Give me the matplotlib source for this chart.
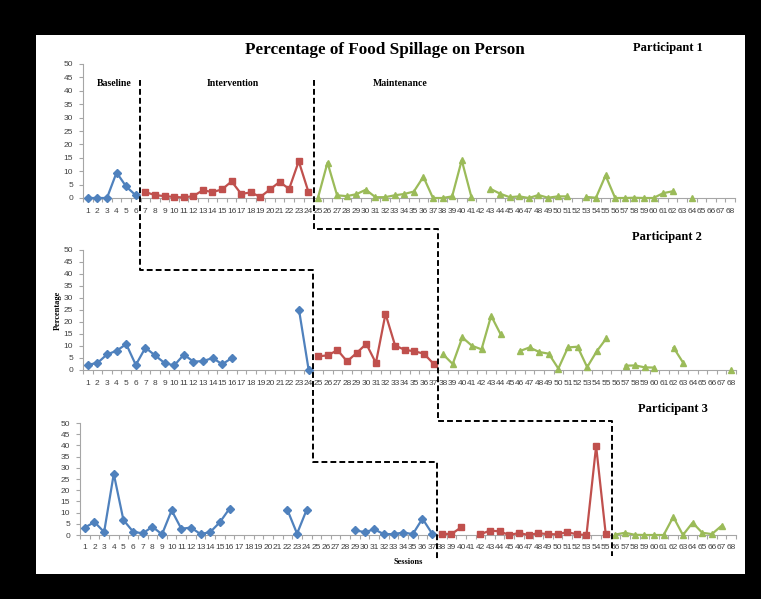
import matplotlib
matplotlib.use("Agg")
import matplotlib.pyplot as plt
import numpy as np
from matplotlib.patches import Rectangle

nan = np.nan
sessions = np.arange(1, 69)

# Participant 1
p1_base = [0, 0, 0, 9.5, 4.3, 1.0]                                   # 1-6
p1_int = [2.2, 1.1, 0.7, 0.4, 0.2, 0.7, 2.9, 2.2, 3.2, 6.2, 1.5, 2.1,
          0.4, 3.2, 6.0, 3.4, 13.7, 2.4]                              # 7-24
p1_maint = [0, 13.2, 1.0, 0.7, 1.4, 3.1, 0.3, 0.3, 1.0, 1.5, 2.4, 7.9,
            0, 0, 0.6, 14.1, 0.5, nan, 3.4, 1.6, 0.3, 0.6, 0, 1.1, 0.1,
            0.6, 0.6, nan, 0.4, 0.1, 8.4, 0, 0, 0.1, 0, 0, 1.8, 2.5, nan,
            0, nan, nan, nan, nan]                                    # 25-68

# Participant 2
p2_base = [2.2, 2.9, 6.5, 8.0, 10.8, 2.1, 9.3, 6.1, 2.9, 1.9, 6.4, 3.5,
           3.7, 5.0, 2.4, 5.0, nan, nan, nan, nan, nan, nan, 24.9, 0]  # 1-24
p2_int = [5.7, 6.1, 8.3, 3.6, 7.1, 10.9, 2.9, 23.4, 10.2, 8.4, 7.8, 6.8,
          2.6]                                                        # 25-37
p2_maint = [6.5, 2.5, 13.6, 10.1, 8.6, 22.6, 14.8, nan, 7.9, 9.4, 7.5, 6.8,
            0.6, 9.4, 9.7, 1.2, 7.8, 13.2, nan, 1.8, 1.9, 1.1, 1.0, nan,
            9.3, 3.0, nan, nan, nan, nan, 0]                          # 38-68

# Participant 3
p3_base = [3.3, 5.8, 1.3, 27.3, 6.7, 1.5, 0.7, 3.7, 0.3, 11.0, 2.8, 3.3,
           0.4, 1.3, 5.7, 11.8, nan, nan, nan, nan, nan, 11.2, 0.6, 11.3,
           nan, nan, nan, nan, 2.1, 1.3, 2.5, 0.4, 0.4, 1.1, 0.4, 7.3, 0.6]  # 1-37
p3_int = [0.6, 0.4, 3.4, nan, 0.3, 2.0, 1.6, 0, 0.9, 0, 0.8, 0.4, 0.3, 1.3,
          0.3, 0, 39.7, 0.3]                                          # 38-55
p3_maint = [0.2, 1.0, 0.1, 0, 0, 0, 8.1, 0, 5.5, 1.0, 0.4, 4.1, nan]  # 56-68

participants = [
    ("Participant 1", [(1, p1_base), (7, p1_int), (25, p1_maint)]),
    ("Participant 2", [(1, p2_base), (25, p2_int), (38, p2_maint)]),
    ("Participant 3", [(1, p3_base), (38, p3_int), (56, p3_maint)]),
]

colors = ["#4F81BD", "#C0504D", "#9BBB59"]
markers = [("D", 3.8), ("s", 4.2), ("^", 4.5)]


def full(start, vals):
    s = np.full(68, nan)
    s[start - 1:start - 1 + len(vals)] = vals
    return s


W, H = 761, 599
fig = plt.figure(figsize=(W / 100, H / 100), dpi=100)
fig.patch.set_facecolor("black")


def box(l, t, r, b):
    # pixel box -> figure fraction
    return [l / W, 1 - b / H, (r - l) / W, (b - t) / H]


bg = fig.add_axes([0, 0, 1, 1], zorder=0)
bg.set_xlim(0, W)
bg.set_ylim(H, 0)
bg.axis("off")
bg.add_patch(Rectangle((36, 35), 709, 539, facecolor="white", edgecolor="none"))

# pixel boxes of the three panels (left, top(50), right, bottom(0))
panel_px = [(83, 64, 735, 198), (83, 250, 736, 370), (80, 423, 736, 535)]
label_pad = [7.5, 7, 6.5]

grey = "#A6A6A6"
for i, (name, parts) in enumerate(participants):
    ax = fig.add_axes(box(*panel_px[i]), zorder=1)
    ax.set_facecolor("none")
    for k, (start, vals) in enumerate(parts):
        ax.plot(sessions, full(start, vals), color=colors[k], lw=1.6,
                marker=markers[k][0], ms=markers[k][1], clip_on=False, zorder=3)
    ax.set_xlim(0.5, 68.5)
    ax.set_ylim(0, 50)
    ax.set_yticks(range(0, 51, 5))
    ax.set_xticks(sessions)
    ax.set_xticks(np.arange(0.5, 69, 1), minor=True)
    for s in ["top", "right"]:
        ax.spines[s].set_visible(False)
    for s in ["left", "bottom"]:
        ax.spines[s].set_color(grey)
        ax.spines[s].set_linewidth(0.8)
    ax.tick_params(axis="x", which="major", length=0, pad=label_pad[i],
                   labelsize=6, labelcolor="#404040")
    ax.tick_params(axis="x", which="minor", length=3, color=grey, width=0.8)
    ax.tick_params(axis="y", length=3, color=grey, width=0.8, pad=4,
                   labelsize=6, labelcolor="#404040")
    for lab in ax.get_xticklabels() + ax.get_yticklabels():
        lab.set_family("Liberation Sans")

ov = fig.add_axes([0, 0, 1, 1], zorder=2)
ov.set_xlim(0, W)
ov.set_ylim(H, 0)
ov.axis("off")
ov.patch.set_alpha(0)

dash1 = [(140, 80), (140, 270), (313, 270), (313, 462), (437, 462), (437, 559)]
dash2 = [(314, 80), (314, 229), (438, 229), (438, 421), (612, 421), (612, 556)]
for path in (dash1, dash2):
    xs, ys = zip(*path)
    ov.plot(xs, ys, color="black", lw=1.4, ls=(0, (3, 1.6)))

serif = "Liberation Serif"
ov.text(385, 50, "Percentage of Food Spillage on Person", ha="center", va="center",
        family=serif, weight="bold", fontsize=12.3)
ov.text(668, 48, "Participant 1", ha="center", va="center", family=serif,
        weight="bold", fontsize=9)
ov.text(667, 237, "Participant 2", ha="center", va="center", family=serif,
        weight="bold", fontsize=9)
ov.text(673, 409, "Participant 3", ha="center", va="center", family=serif,
        weight="bold", fontsize=9)
ov.text(114, 84, "Baseline", ha="center", va="center", family=serif,
        weight="bold", fontsize=7)
ov.text(233, 84, "Intervention", ha="center", va="center", family=serif,
        weight="bold", fontsize=7)
ov.text(400, 84, "Maintenance", ha="center", va="center", family=serif,
        weight="bold", fontsize=7)
ov.text(58, 310, "Percentage", ha="center", va="center", rotation=90,
        family=serif, weight="bold", fontsize=6)
ov.text(408, 562, "Sessions", ha="center", va="center", family=serif,
        weight="bold", fontsize=6)

fig.savefig("out.png", dpi=100, facecolor=fig.get_facecolor())
